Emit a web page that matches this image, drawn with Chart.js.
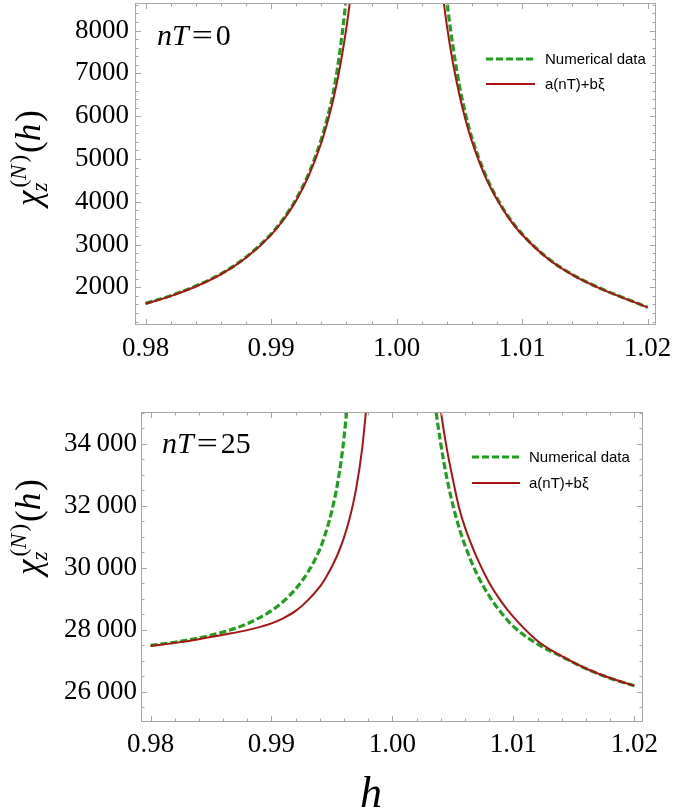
<!DOCTYPE html>
<html>
<head>
<meta charset="utf-8">
<script src="https://cdn.jsdelivr.net/npm/chart.js@4.4.0/dist/chart.umd.min.js"></script>
<style>
  html, body { margin: 0; padding: 0; background: #fff; }
  #wrap { position: relative; width: 675px; height: 811px; }
  canvas { position: absolute; left: 0; }
</style>
</head>
<body>
<div id="wrap">
  <canvas id="chartTop" width="675" height="370" style="top:0"></canvas>
  <canvas id="chartBottom" width="675" height="441" style="top:370px"></canvas>
</div>
<script>
// x axis (h) major ticks, shared by both panels
const hTicks = [0.98, 0.99, 1.00, 1.01, 1.02];

// panel nT=0
const hLeftTop = [0.980, 0.982, 0.984, 0.986, 0.988, 0.990, 0.991, 0.992, 0.993, 0.994, 0.9945, 0.995, 0.9955, 0.996, 0.9965, 0.997];
const hRightTop = [1.003, 1.0035, 1.004, 1.0045, 1.005, 1.0055, 1.006, 1.007, 1.008, 1.009, 1.010, 1.012, 1.014, 1.016, 1.018, 1.020];
const numTopLeft = [1625, 1805, 2030, 2315, 2705, 3245, 3610, 4065, 4660, 5460, 5980, 6620, 7550, 8800, 10300, 12200];
const fitTopLeft = [1615, 1795, 2020, 2305, 2690, 3225, 3585, 4030, 4610, 5380, 5870, 6450, 7170, 8070, 9220, 10760];
const numTopRight = [12100, 10200, 8700, 7600, 6720, 6030, 5490, 4680, 4080, 3610, 3245, 2690, 2300, 2005, 1765, 1535];
const fitTopRight = [10800, 9290, 8120, 7220, 6500, 5900, 5410, 4630, 4050, 3590, 3230, 2680, 2290, 2000, 1760, 1532];
const yTicksTop = [2000, 3000, 4000, 5000, 6000, 7000, 8000];

// panel nT=25
const hLeftBot = [0.980, 0.982, 0.984, 0.986, 0.988, 0.990, 0.991, 0.992, 0.993, 0.994, 0.9945, 0.995, 0.9955, 0.996, 0.9965, 0.997, 0.9975, 0.998];
const hRightBot = [1.003, 1.0035, 1.004, 1.0045, 1.005, 1.0055, 1.006, 1.007, 1.008, 1.009, 1.010, 1.012, 1.014, 1.016, 1.018, 1.020];
const numBotLeft = [27500, 27600, 27740, 27930, 28200, 28620, 28920, 29320, 29850, 30600, 31150, 31850, 32800, 34200, 36400, 39500, 43000, 47000];
const fitBotLeft = [27480, 27580, 27700, 27840, 27990, 28210, 28380, 28610, 28950, 29390, 29690, 30040, 30460, 30980, 31650, 32550, 33850, 35800];
const numBotRight = [37240, 35380, 33980, 32890, 32020, 31310, 30720, 29790, 29090, 28550, 28110, 27540, 27140, 26750, 26440, 26200];
const fitBotRight = [38750, 36640, 35060, 33830, 32850, 31950, 31300, 30310, 29520, 28910, 28415, 27640, 27150, 26754, 26446, 26200];
const yTicksBot = [26000, 28000, 30000, 32000, 34000];

const seriesLabels = ['Numerical data', 'a(nT)+b\u03BE'];

const GREEN = '#1f9e1f';
const RED = '#a81414';
const SERIF = '"Liberation Serif", "Times New Roman", serif';

// join the two branches with a gap at h = 1
function branch(hl, vl, hr, vr) {
    const pts = hl.map((h, i) => ({ x: h, y: vl[i] }));
    pts.push({ x: 1.0, y: null });
    hr.forEach((h, i) => pts.push({ x: h, y: vr[i] }));
    return pts;
}

function drawTag(ctx, x, y, value) {
    ctx.font = 'italic 30px ' + SERIF;
    ctx.fillText('nT', x, y);
    x += ctx.measureText('nT').width + 3;
    ctx.font = '30px ' + SERIF;
    ctx.save();
    ctx.translate(x, 0);
    ctx.scale(1.25, 1);
    ctx.fillText('=', 0, y);
    ctx.restore();
    x += ctx.measureText('=').width * 1.25 + 3;
    ctx.fillText(value, x, y);
}

function drawChi(ctx, cx, cy, baseX) {
    const big = 'italic 35px ' + SERIF;
    const bigUp = '35px ' + SERIF;
    const sm = 'italic 23px ' + SERIF;
    const smUp = '23px ' + SERIF;
    const parts = [];
    ctx.font = big;
    const wChi = ctx.measureText('\u03C7').width;
    parts.push({ t: '\u03C7', f: big, x: 0, dy: 0 });
    parts.push({ t: 'z', f: sm, x: wChi - 1, dy: 7 });
    let x = wChi + 3;
    [['(', smUp], ['N', sm], [')', smUp]].forEach(([t, f]) => {
        ctx.font = f;
        parts.push({ t, f, x, dy: -14 });
        x += ctx.measureText(t).width + (t === 'N' ? 2 : 0);
    });
    x += 2;
    [['(', bigUp], ['h', big], [')', bigUp]].forEach(([t, f]) => {
        ctx.font = f;
        parts.push({ t, f, x, dy: 0 });
        x += ctx.measureText(t).width + (t === 'h' ? 2 : 0);
    });
    const total = x;
    ctx.save();
    ctx.translate(baseX, cy);
    ctx.rotate(-Math.PI / 2);
    ctx.textBaseline = 'alphabetic';
    ctx.textAlign = 'left';
    parts.forEach(p => {
        ctx.font = p.f;
        ctx.fillText(p.t, p.x - total / 2, p.dy);
    });
    ctx.restore();
}

const decorPlugin = {
    id: 'decor',
    afterDatasetsDraw(chart, args, opts) {
        const ctx = chart.ctx;
        const a = chart.chartArea;
        const xs = chart.scales.x, ys = chart.scales.y;
        ctx.save();
        // frame
        ctx.strokeStyle = '#a6a6a6';
        ctx.lineWidth = 1;
        ctx.strokeRect(Math.round(a.left) + 0.5, Math.round(a.top) + 0.5,
            Math.round(a.right - a.left) - 1, Math.round(a.bottom - a.top) - 1);
        // inward ticks
        ctx.beginPath();
        for (let i = 0; i <= 20; i++) {
            const v = 0.98 + i * 0.002;
            const px = Math.round(xs.getPixelForValue(v)) + 0.5;
            const len = i % 5 === 0 ? 6 : 3.5;
            ctx.moveTo(px, a.bottom); ctx.lineTo(px, a.bottom - len);
            ctx.moveTo(px, a.top); ctx.lineTo(px, a.top + len);
        }
        for (let v = opts.yMinorStart; v <= ys.max; v += opts.yMinor) {
            if (v < ys.min) continue;
            const py = Math.round(ys.getPixelForValue(v)) + 0.5;
            const len = v % opts.yMajor === 0 ? 6 : 3.5;
            ctx.moveTo(a.left, py); ctx.lineTo(a.left + len, py);
            ctx.moveTo(a.right, py); ctx.lineTo(a.right - len, py);
        }
        ctx.stroke();

        // legend, built from the datasets
        const L = opts.legend;
        chart.data.datasets.forEach((ds, i) => {
            const y = L.y + i * L.dy;
            ctx.beginPath();
            ctx.strokeStyle = ds.borderColor;
            ctx.lineWidth = ds.borderWidth;
            ctx.setLineDash(ds.borderDash || []);
            ctx.moveTo(L.x1, y); ctx.lineTo(L.x2, y);
            ctx.stroke();
            ctx.setLineDash([]);
            ctx.fillStyle = '#000';
            ctx.font = '15px "Liberation Sans", Arial, sans-serif';
            ctx.textBaseline = 'middle';
            ctx.textAlign = 'left';
            ctx.fillText(ds.label, L.tx, y + 1);
        });

        // panel tag and y title
        ctx.fillStyle = '#000';
        ctx.textBaseline = 'alphabetic';
        ctx.textAlign = 'left';
        drawTag(ctx, opts.tag.x, opts.tag.y, opts.tag.value);
        drawChi(ctx, 0, opts.title.cy, opts.title.baseX);

        if (opts.hTitle) {
            ctx.font = 'italic 44px ' + SERIF;
            ctx.textAlign = 'center';
            ctx.fillText('h', opts.hTitle.x, opts.hTitle.y);
        }
        ctx.restore();
    }
};

function makeChart(id, cfg) {
    const ctx = document.getElementById(id).getContext('2d');
    return new Chart(ctx, {
        type: 'line',
        data: {
            datasets: [{
                label: seriesLabels[0],
                data: cfg.num,
                borderColor: GREEN,
                borderWidth: 3.2,
                borderDash: [7, 3],
                pointRadius: 0,
                cubicInterpolationMode: 'monotone',
                fill: false,
                order: 1
            }, {
                label: seriesLabels[1],
                data: cfg.fit,
                borderColor: RED,
                borderWidth: 2,
                pointRadius: 0,
                cubicInterpolationMode: 'monotone',
                fill: false,
                order: 0
            }]
        },
        options: {
            responsive: false,
            animation: false,
            layout: { padding: cfg.padding },
            plugins: {
                legend: { display: false },
                tooltip: { enabled: false },
                decor: cfg.decor
            },
            scales: {
                x: {
                    type: 'linear',
                    min: cfg.xMin,
                    max: cfg.xMax,
                    grid: { display: false, drawTicks: false },
                    border: { display: false },
                    afterBuildTicks: s => { s.ticks = hTicks.map(v => ({ value: v })); },
                    afterFit: s => {
                        s.height = cfg.xHeight;
                        s.paddingLeft = 0; s.paddingRight = 0;
                    },
                    ticks: {
                        color: '#000',
                        padding: cfg.xPad,
                        maxRotation: 0,
                        autoSkip: false,
                        font: { family: SERIF, size: 27, lineHeight: 1.2 },
                        callback: v => v.toFixed(2)
                    }
                },
                y: {
                    min: cfg.yMin,
                    max: cfg.yMax,
                    grid: { display: false, drawTicks: false },
                    border: { display: false },
                    afterBuildTicks: s => { s.ticks = cfg.yTicks.map(v => ({ value: v })); },
                    afterFit: s => {
                        s.width = cfg.yWidth;
                        s.paddingTop = 0; s.paddingBottom = 0;
                    },
                    ticks: {
                        color: '#000',
                        padding: cfg.yPad,
                        autoSkip: false,
                        font: { family: SERIF, size: 27 },
                        callback: cfg.yFmt
                    }
                }
            }
        },
        plugins: [decorPlugin]
    });
}

makeChart('chartTop', {
    num: branch(hLeftTop, numTopLeft, hRightTop, numTopRight),
    fit: branch(hLeftTop, fitTopLeft, hRightTop, fitTopRight),
    xMin: 0.97916, xMax: 1.02066,
    yMin: 1120, yMax: 8645,
    yTicks: yTicksTop,
    yFmt: v => String(v),
    padding: { top: 3, right: 19, left: 0, bottom: 0 },
    xHeight: 45, yWidth: 135, xPad: 8, yPad: 6,
    decor: {
        yMinor: 200, yMinorStart: 1200, yMajor: 1000,
        legend: { x1: 486, x2: 535, tx: 545, y: 59, dy: 25 },
        tag: { x: 157, y: 45, value: '0' },
        title: { cy: 158, baseX: 40 }
    }
});

makeChart('chartBottom', {
    num: branch(hLeftBot, numBotLeft, hRightBot, numBotRight),
    fit: branch(hLeftBot, fitBotLeft, hRightBot, fitBotRight),
    xMin: 0.97921, xMax: 1.02072,
    yMin: 25030, yMax: 35020,
    yTicks: yTicksBot,
    yFmt: v => String(v).replace(/(\d\d)(\d{3})$/, '$1\u2009$2'),
    padding: { top: 42, right: 32, left: 0, bottom: 0 },
    xHeight: 89, yWidth: 141, xPad: 7, yPad: 4,
    decor: {
        yMinor: 500, yMinorStart: 25500, yMajor: 2000,
        legend: { x1: 472, x2: 520, tx: 529, y: 87, dy: 26 },
        tag: { x: 162, y: 83, value: '25' },
        title: { cy: 157, baseX: 40 },
        hTitle: { x: 371, y: 437 }
    }
});
</script>
</body>
</html>
